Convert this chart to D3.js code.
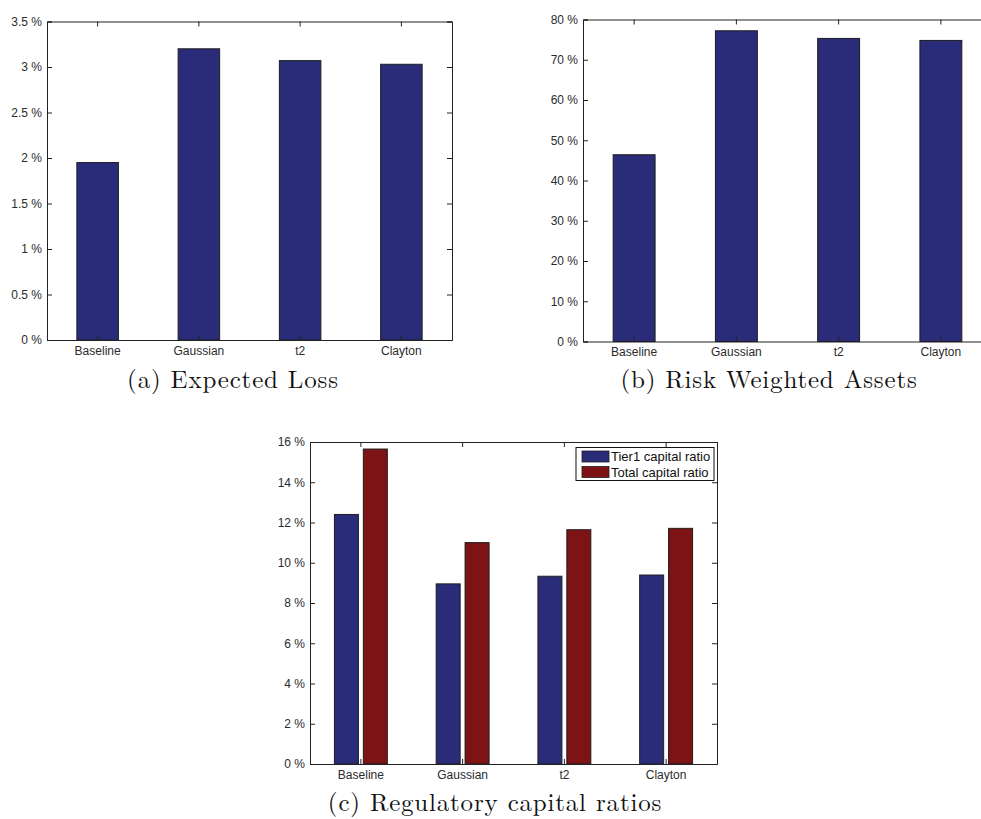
<!DOCTYPE html>
<html>
  <head>
    <meta charset="utf-8">
    <title>Expected loss, RWA and capital ratios</title>
    <style>
      body { margin: 0; background: #fff; }
      .tick text { font-family: 'Liberation Sans', Arial, sans-serif; font-size: 12px; fill: #2b2b2b; }
      .caption { font-family: 'Latin Modern Roman', 'CMU Serif', 'Liberation Serif', serif; font-size: 25px; fill: #111; letter-spacing: 0.8px; }
      .legend text { font-family: 'Liberation Sans', Arial, sans-serif; font-size: 13px; fill: #111; }
    </style>
  </head>
  <body>
    <div id="chart"></div>
    <script src="https://cdn.jsdelivr.net/npm/d3@7"></script>
    <script>
      var categories = ['Baseline', 'Gaussian', 't2', 'Clayton'];

      // (a) expected loss, %
      var expectedLoss = [1.95, 3.2, 3.07, 3.03];
      var lossTicks = [0, 0.5, 1, 1.5, 2, 2.5, 3, 3.5];

      // (b) risk weighted assets, %
      var rwa = [46.4, 77.2, 75.3, 74.8];
      var rwaTicks = [0, 10, 20, 30, 40, 50, 60, 70, 80];

      // (c) regulatory capital ratios, %
      var capSeries = ['Tier1 capital ratio', 'Total capital ratio'];
      var tier1 = [12.4, 8.95, 9.33, 9.39];
      var totalCap = [15.65, 11.0, 11.64, 11.71];
      var capTicks = [0, 2, 4, 6, 8, 10, 12, 14, 16];

      var blue = '#2a2c7a';
      var red = '#7d1315';
      var edge = '#1e1e1e';

      var svg = d3.select('#chart').append('svg')
        .attr('width', 981)
        .attr('height', 819);

      function fmt(d) { return d + ' %'; }

      // draws the matlab-ish box with inward ticks on all four sides
      function drawAxes(g, x, y, ticks) {
        var x0 = x.range()[0], x1 = x.range()[1];
        var y0 = y.range()[0], y1 = y.range()[1];

        g.append('g')
          .attr('class', 'x axis')
          .attr('transform', 'translate(0,' + y0 + ')')
          .call(d3.axisBottom(x).tickSize(-5).tickPadding(6));
        g.append('g')
          .attr('transform', 'translate(0,' + y1 + ')')
          .call(d3.axisTop(x).tickSize(-5).tickFormat(''));
        g.append('g')
          .attr('class', 'y axis')
          .attr('transform', 'translate(' + x0 + ',0)')
          .call(d3.axisLeft(y).tickValues(ticks).tickFormat(fmt).tickSize(-5).tickPadding(4));
        g.append('g')
          .attr('transform', 'translate(' + x1 + ',0)')
          .call(d3.axisRight(y).tickValues(ticks).tickFormat('').tickSize(-5));

        g.selectAll('.domain').attr('stroke', '#222');
        g.selectAll('.tick line').attr('stroke', '#222');
        g.selectAll('.y.axis .tick text').attr('dx', '-1px');
      }

      function singlePanel(values, ticks, box, caption) {
        var g = svg.append('g');
        var x = d3.scaleBand().domain(categories).range([box.left, box.right]);
        var y = d3.scaleLinear().domain([0, ticks[ticks.length - 1]]).range([box.bottom, box.top]);
        var bw = x.bandwidth() * 0.41;

        g.selectAll('rect.bar')
          .data(values)
          .enter().append('rect')
          .attr('class', 'bar')
          .attr('x', function(d, i) { return x(categories[i]) + x.bandwidth() / 2 - bw / 2; })
          .attr('y', function(d) { return y(d); })
          .attr('width', bw)
          .attr('height', function(d) { return y(0) - y(d); })
          .attr('fill', blue)
          .attr('stroke', edge)
          .attr('stroke-width', 1);

        drawAxes(g, x, y, ticks);

        g.append('text')
          .attr('class', 'caption')
          .attr('x', box.capX)
          .attr('y', box.capY)
          .attr('text-anchor', 'middle')
          .text(caption);
      }

      singlePanel(expectedLoss, lossTicks,
        {left: 47, right: 452, top: 21.5, bottom: 340, capX: 233, capY: 388},
        '(a) Expected Loss');

      singlePanel(rwa, rwaTicks,
        {left: 583, right: 992, top: 19.5, bottom: 341.5, capX: 769, capY: 388},
        '(b) Risk Weighted Assets');

      // (c) grouped bars
      (function() {
        var box = {left: 310, right: 717, top: 442, bottom: 764};
        var g = svg.append('g');
        var x = d3.scaleBand().domain(categories).range([box.left, box.right]);
        var y = d3.scaleLinear().domain([0, 16]).range([box.bottom, box.top]);
        var gw = x.bandwidth() * 0.52;
        var x1 = d3.scaleBand().domain(capSeries).range([-gw / 2, gw / 2]).paddingInner(0.17);
        var color = d3.scaleOrdinal().domain(capSeries).range([blue, red]);

        var rows = categories.map(function(c, i) {
          return {cat: c, vals: [tier1[i], totalCap[i]]};
        });

        var grp = g.selectAll('g.grp')
          .data(rows)
          .enter().append('g')
          .attr('class', 'grp')
          .attr('transform', function(d) { return 'translate(' + (x(d.cat) + x.bandwidth() / 2) + ',0)'; });

        grp.selectAll('rect')
          .data(function(d) { return d.vals.map(function(v, j) { return {s: capSeries[j], v: v}; }); })
          .enter().append('rect')
          .attr('x', function(d) { return x1(d.s); })
          .attr('y', function(d) { return y(d.v); })
          .attr('width', x1.bandwidth())
          .attr('height', function(d) { return y(0) - y(d.v); })
          .attr('fill', function(d) { return color(d.s); })
          .attr('stroke', edge)
          .attr('stroke-width', 1);

        drawAxes(g, x, y, capTicks);

        var legend = g.append('g').attr('class', 'legend');
        legend.append('rect')
          .attr('x', 576).attr('y', 447.5)
          .attr('width', 138).attr('height', 33)
          .attr('fill', '#fff')
          .attr('stroke', '#111')
          .attr('stroke-width', 1);

        var item = legend.selectAll('g.item')
          .data(capSeries)
          .enter().append('g')
          .attr('class', 'item')
          .attr('transform', function(d, i) { return 'translate(582,' + (451 + i * 15.5) + ')'; });
        item.append('rect')
          .attr('width', 27).attr('height', 11)
          .attr('fill', color)
          .attr('stroke', edge)
          .attr('stroke-width', 0.8);
        item.append('text')
          .attr('x', 29).attr('y', 10)
          .text(function(d) { return d; });

        g.append('text')
          .attr('class', 'caption')
          .attr('x', 495)
          .attr('y', 811)
          .attr('text-anchor', 'middle')
          .text('(c) Regulatory capital ratios');
      })();
    </script>
  </body>
</html>
